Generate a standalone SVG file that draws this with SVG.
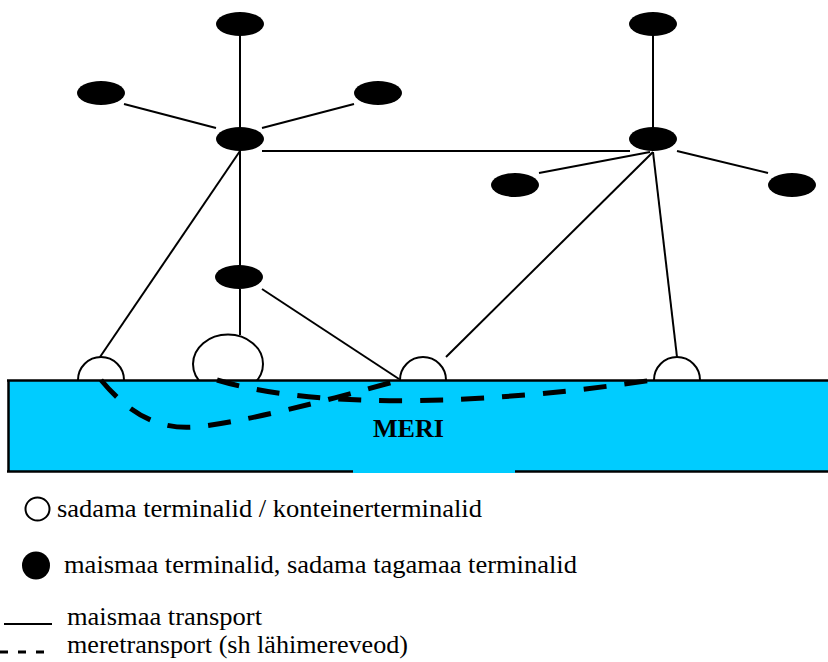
<svg xmlns="http://www.w3.org/2000/svg" width="828" height="662" viewBox="0 0 828 662">
<style>
.land{stroke:#000;stroke-width:2;fill:none}
.sea{stroke:#000;stroke-width:5;fill:none;stroke-dasharray:23 18}
.term{fill:#000}
.port{fill:#fff;stroke:#000;stroke-width:2}
.txt{font-family:"Liberation Serif","Times New Roman",serif;font-size:26px;fill:#000}
</style>
<rect width="828" height="662" fill="#fff"/>
<g id="connectors">
<line class="land" x1="240" y1="36" x2="240" y2="127"/>
<line class="land" x1="124" y1="104" x2="216" y2="128"/>
<line class="land" x1="262" y1="128" x2="354" y2="104"/>
<line class="land" x1="262" y1="151" x2="630" y2="151"/>
<line class="land" x1="240" y1="151" x2="240" y2="266"/>
<line class="land" x1="240" y1="151" x2="100" y2="357"/>
<line class="land" x1="240" y1="289" x2="240" y2="335"/>
<line class="land" x1="262" y1="289" x2="399" y2="379"/>
<line class="land" x1="653" y1="36" x2="653" y2="127"/>
<line class="land" x1="539" y1="173" x2="650" y2="152"/>
<line class="land" x1="677" y1="151" x2="768" y2="173"/>
<line class="land" x1="653" y1="152" x2="446" y2="357"/>
<line class="land" x1="653" y1="152" x2="677" y2="357"/>
</g>
<g id="port1"><circle class="port" cx="101" cy="380" r="23"/></g>
<g id="port2"><ellipse class="port" cx="228" cy="364" rx="35" ry="29.5"/></g>
<g id="port3"><circle class="port" cx="423" cy="380" r="23"/></g>
<g id="port4"><circle class="port" cx="677" cy="380" r="23"/></g>
<g id="sea">
<rect x="8" y="380" width="822" height="92" fill="#00CCFF"/>
<rect x="353" y="470" width="162" height="3" fill="#00CCFF"/>
<line x1="7" y1="380.5" x2="828" y2="380.5" stroke="#000" stroke-width="2.5"/>
<line x1="8.5" y1="380" x2="8.5" y2="472" stroke="#000" stroke-width="2.5"/>
<line x1="7" y1="471.5" x2="353" y2="471.5" stroke="#000" stroke-width="2.5"/>
<line x1="515" y1="471.5" x2="828" y2="471.5" stroke="#000" stroke-width="2.5"/>
<text class="txt" x="373" y="437" font-weight="bold" textLength="71" lengthAdjust="spacingAndGlyphs">MERI</text>
</g>
<g id="sea-routes">
<path class="sea" d="M101,380 C130,415 160,430 195,427 C240,423 330,400 400,380"/>
<path class="sea" d="M217,380 C300,405 450,410 653,380"/>
</g>
<g id="t-top-left"><ellipse class="term" cx="240" cy="24" rx="24" ry="12"/></g>
<g id="t-left"><ellipse class="term" cx="101" cy="93" rx="24" ry="12"/></g>
<g id="t-left-right"><ellipse class="term" cx="378" cy="93" rx="24" ry="12"/></g>
<g id="t-hub-left"><ellipse class="term" cx="240" cy="139" rx="24" ry="12"/></g>
<g id="t-middle"><ellipse class="term" cx="239" cy="277" rx="24" ry="12"/></g>
<g id="t-top-right"><ellipse class="term" cx="653" cy="24" rx="24" ry="12"/></g>
<g id="t-hub-right"><ellipse class="term" cx="653" cy="139" rx="24" ry="12"/></g>
<g id="t-right-left"><ellipse class="term" cx="515" cy="185" rx="24" ry="12"/></g>
<g id="t-right-right"><ellipse class="term" cx="792" cy="185" rx="24" ry="12"/></g>
<g id="legend">
<ellipse cx="37.5" cy="509" rx="12" ry="11.5" fill="#fff" stroke="#000" stroke-width="2"/>
<text class="txt" x="57" y="517" textLength="425" lengthAdjust="spacingAndGlyphs">sadama terminalid / konteinerterminalid</text>
<ellipse cx="36" cy="565.5" rx="14" ry="14" fill="#000"/>
<text class="txt" x="64" y="573" textLength="513" lengthAdjust="spacingAndGlyphs">maismaa terminalid, sadama tagamaa terminalid</text>
<line x1="4" y1="624" x2="52" y2="624" stroke="#000" stroke-width="2"/>
<text class="txt" x="67" y="625" textLength="195" lengthAdjust="spacingAndGlyphs">maismaa transport</text>
<line x1="0" y1="652" x2="48" y2="652" stroke="#000" stroke-width="3" stroke-dasharray="8 10"/>
<text class="txt" x="67" y="653" textLength="341" lengthAdjust="spacingAndGlyphs">meretransport (sh lähimereveod)</text>
</g>
</svg>
